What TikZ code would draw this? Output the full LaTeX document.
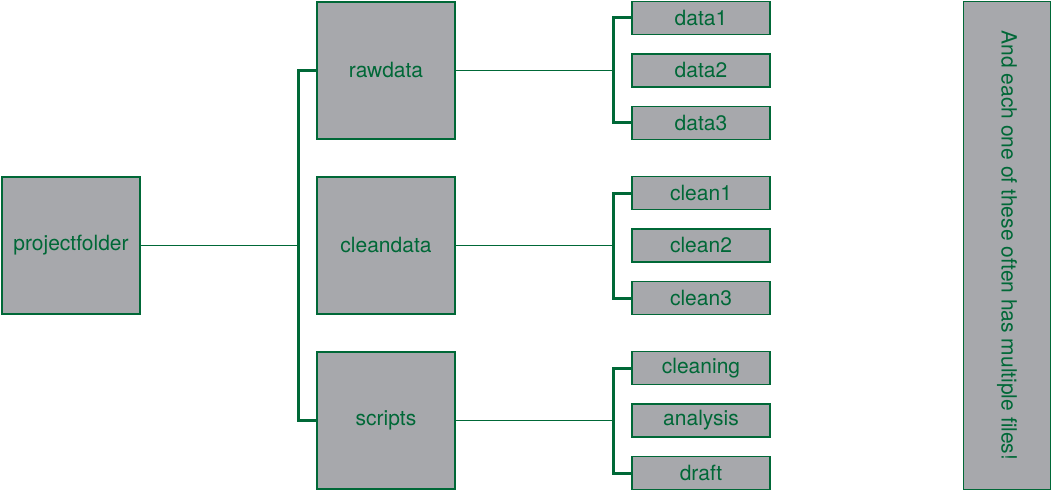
\documentclass[tikz,border=0pt]{standalone}
\usepackage{fontspec}
\setmainfont{TeX Gyre Heros}
\definecolor{folderline}{RGB}{0,104,55}
\definecolor{foldergray}{RGB}{167,168,172}
\begin{document}
\begin{tikzpicture}[x=1pt,y=-1pt,
  box/.style={draw=folderline,fill=foldergray,line width=1.6pt,inner sep=0pt,
    text=folderline,font=\fontsize{21}{25}\selectfont},
  folder/.style={box,minimum width=138.5pt,minimum height=137.5pt},
  file/.style={box,minimum width=138.5pt,minimum height=33pt},
  link/.style={draw=folderline,line width=1.8pt},
  bracket/.style={draw=folderline,line width=3pt}]
\useasboundingbox (0,0) rectangle (1052,492);

% folders
\node[folder] (proj) at (71,245.5) {projectfolder};
\node[folder] (raw) at (386,70.5) {rawdata};
\node[folder] (clean) at (386,245.5) {cleandata};
\node[folder] (scripts) at (386,420.5) {scripts};

% files
\node[file] (data1) at (701,18) {data1};
\node[file] (data2) at (701,70.5) {data2};
\node[file] (data3) at (701,123) {data3};
\node[file] (clean1) at (701,193) {clean1};
\node[file] (clean2) at (701,245.5) {clean2};
\node[file] (clean3) at (701,298) {clean3};
\node[file] (cleaning) at (701,368) {cleaning};
\node[file] (analysis) at (701,420.5) {analysis};
\node[file] (draft) at (701,473) {draft};

% note
\node[box,minimum width=87pt,minimum height=488pt] (note) at (1007,245.5) {};
\node[text=folderline,font=\fontsize{21}{25}\selectfont,rotate=-90] (notetext) at (note) {And each one of these often has multiple files!};

% connectors
\coordinate (pbar) at (298,245.5);
\coordinate (rbar) at (613,70.5);
\coordinate (cbar) at (613,245.5);
\coordinate (sbar) at (613,420.5);
\draw[link] (proj) -- (pbar);
\draw[bracket] (raw.west) -- (raw.west -| pbar) -- (scripts.west -| pbar) -- (scripts.west);
\draw[link] (raw) -- (rbar);
\draw[bracket] (data1.west) -- (data1.west -| rbar) -- (data3.west -| rbar) -- (data3.west);
\draw[link] (clean) -- (cbar);
\draw[bracket] (clean1.west) -- (clean1.west -| cbar) -- (clean3.west -| cbar) -- (clean3.west);
\draw[link] (scripts) -- (sbar);
\draw[bracket] (cleaning.west) -- (cleaning.west -| sbar) -- (draft.west -| sbar) -- (draft.west);

\end{tikzpicture}
\end{document}
